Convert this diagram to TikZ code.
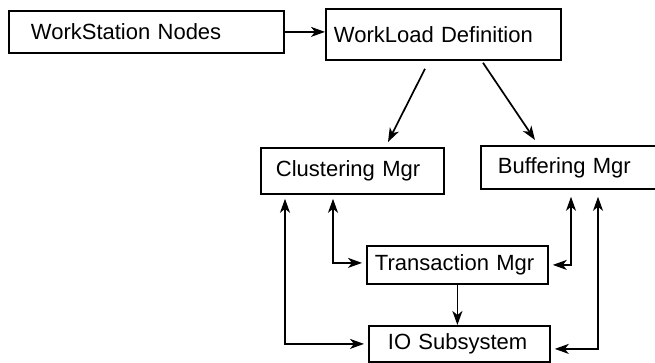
\documentclass[tikz,border=0pt]{standalone}
\usepackage{fontspec}
\setmainfont{Liberation Sans}
\usetikzlibrary{arrows.meta,calc}
\tikzset{
  box/.style={draw, line width=1.8pt, rectangle, anchor=north west, align=left,
    font=\fontsize{22}{24}\selectfont, inner ysep=0pt},
  tip/.style={Stealth[length=14pt,width=10pt,inset=4pt]},
  arr/.style={line width=1.7pt, -{Stealth[length=14pt,width=10pt,inset=4pt]}},
  dbl/.style={line width=1.6pt, {Stealth[length=14pt,width=10pt,inset=4pt]}-{Stealth[length=14pt,width=10pt,inset=4pt]}},
}
\begin{document}
\begin{tikzpicture}[x=1pt,y=-1pt]
\useasboundingbox (0,0) rectangle (655,362);
\node[box, inner xsep=22pt, text width=231pt, minimum height=42pt] (ws) at (8,10) {WorkStation Nodes};
\node[box, inner xsep=8pt, text width=219pt, minimum height=51pt] (wl) at (325,8) {WorkLoad Definition};
\node[box, inner xsep=15pt, text width=153pt, minimum height=46pt] (cl) at (260,147) {Clustering Mgr};
\node[box, inner xsep=17pt, text width=166pt, minimum height=43pt] (bf) at (480,145) {Buffering Mgr};
\node[box, inner xsep=8pt, text width=165pt, minimum height=38pt] (tr) at (366,245) {Transaction Mgr};
\node[box, inner xsep=19pt, text width=143pt, minimum height=36pt] (io) at (368,325) {IO Subsystem};

\draw[arr] (ws.east) -- (ws.east -| wl.west);
\draw[arr] ($(wl.south west)+(100,8)$) -- ($(cl.north west)+(128,-5)$);
\draw[arr] ($(wl.south west)+(158,2)$) -- ($(bf.north west)+(55,-5)$);
\draw[dbl] ($(cl.south west)+(73,4)$) |- ($(tr.west)+(-4,-2)$);
\draw[dbl] ($(cl.south west)+(25,4)$) |- ($(io.west)+(-4,0)$);
\draw[dbl] ($(bf.south west)+(91,7)$) |- ($(tr.east)+(4,0)$);
\draw[dbl] ($(bf.south west)+(118,7)$) |- ($(io.east)+(4,5)$);
\draw[arr] (tr.south) -- (tr.south |- io.north);
\end{tikzpicture}
\end{document}
